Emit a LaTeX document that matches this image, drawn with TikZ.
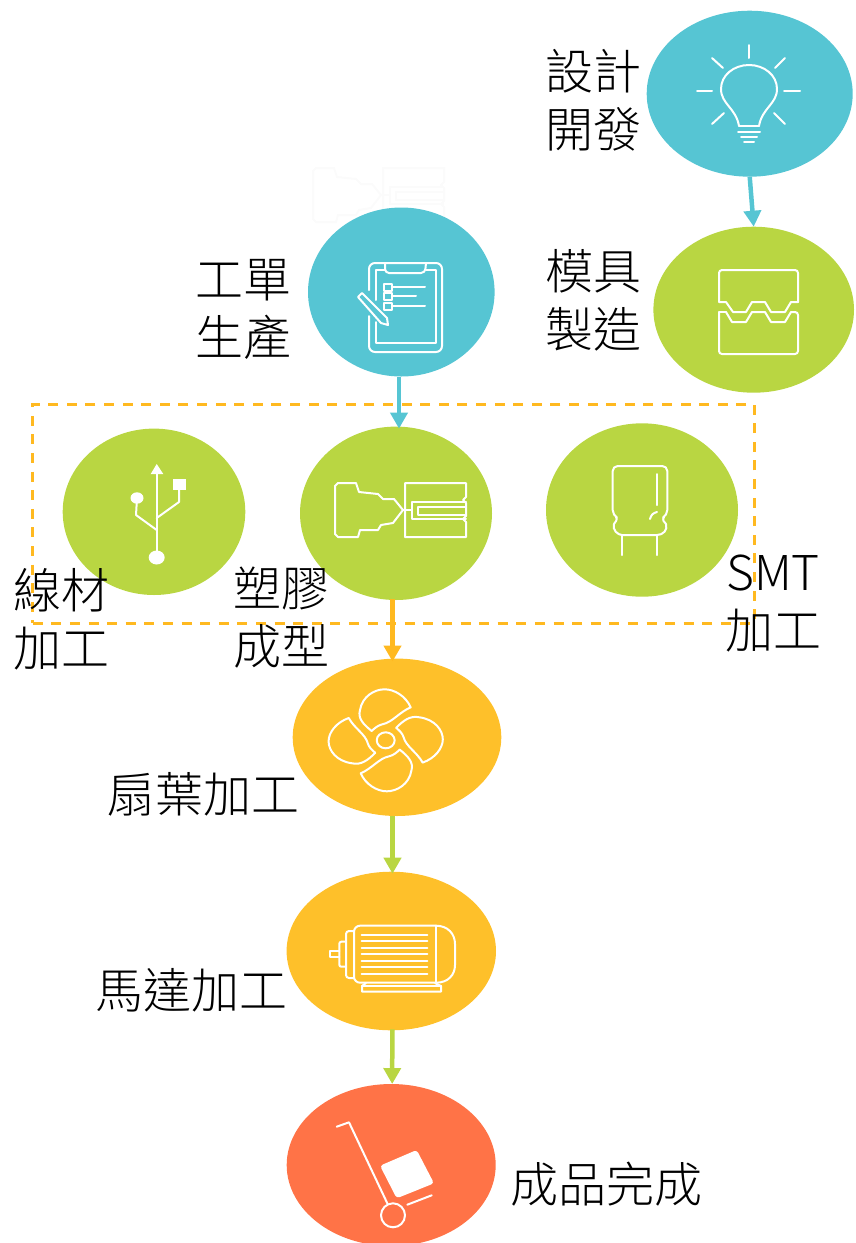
\documentclass[tikz,border=0pt]{standalone}
\usepackage{fontspec}
\setmainfont{Noto Sans CJK TC Light}
\usetikzlibrary{shapes.geometric,arrows.meta}

\definecolor{tealc}{HTML}{56C5D3}
\definecolor{greenc}{HTML}{B9D642}
\definecolor{amberc}{HTML}{FEC02A}
\definecolor{dashc}{HTML}{FFB920}
\definecolor{redc}{HTML}{FF7347}

\tikzset{
  stage/.style={ellipse, inner sep=0, outer sep=0},
  label text/.style={font=\fontsize{48}{58}\selectfont, align=center, text=black, inner sep=0},
  flow/.style={line width=4.5pt, -{Triangle[length=16pt,width=17pt]}},
  icon/.style={white, draw=white, line width=2pt, line join=round, line cap=round}
}

\newcommand{\injectionicon}{
  \draw (335,486) -- (338,483) -- (356,483) -- (359,492) -- (378,494) -- (383,499) -- (394,499)
    -- (403,510) -- (393,523) -- (381,525) -- (378,530) -- (360,530) -- (358,537) -- (338,537)
    -- (335,534) -- cycle;
  \draw (403,510) -- (412,510);
  \draw (405,483) -- (466,483) -- (466,497) -- (463,500) -- (466,503) -- (466,516) -- (463,519)
    -- (466,522) -- (466,537) -- (405,537) -- cycle;
  \draw (466,502) -- (412,502) -- (412,519) -- (466,519);
  \draw (465,507) -- (418,507) -- (418,515) -- (465,515);
}

\begin{document}
\begin{tikzpicture}[x=1pt,y=-1pt]

\useasboundingbox (0,0) rectangle (856,1243);
\clip (0,0) rectangle (856,1243);

\coordinate (A) at (749.7,93.7);
\coordinate (B) at (753.7,309.7);
\coordinate (C) at (401.3,292);
\coordinate (D) at (154,511.8);
\coordinate (E) at (396,513.3);
\coordinate (F) at (642,510);
\coordinate (G) at (397,737.3);
\coordinate (H) at (391.3,951);
\coordinate (I) at (391.2,1165);

% faint ghost of the injection icon
\begin{scope}[xshift=-22pt,yshift=315pt,draw=black!1.5,line width=2pt]
\injectionicon
\end{scope}

\node [stage, fill=tealc, minimum width=206pt, minimum height=166pt] (design) at (A) {};
\node [stage, fill=greenc, minimum width=200.6pt, minimum height=166pt] (mold) at (B) {};
\node [stage, fill=tealc, minimum width=186.6pt, minimum height=169pt] (order) at (C) {};
\node [stage, fill=greenc, minimum width=182.6pt, minimum height=166.4pt] (wire) at (D) {};
\node [stage, fill=greenc, minimum width=192pt, minimum height=173.4pt] (plastic) at (E) {};
\node [stage, fill=greenc, minimum width=192pt, minimum height=173.4pt] (smt) at (F) {};
\node [stage, fill=amberc, minimum width=208.6pt, minimum height=157.4pt] (blade) at (G) {};
\node [stage, fill=amberc, minimum width=209.4pt, minimum height=158.6pt] (motor) at (H) {};
\node [stage, fill=redc, minimum width=209pt, minimum height=162pt] (product) at (I) {};

\node [rectangle, draw=dashc, line width=3pt, dash pattern=on 10pt off 8.6pt, inner sep=0,
  minimum width=721.6pt, minimum height=219pt] (group) at (393.5,513.5) {};

\draw [flow, tealc] (design.south) -- (mold.north);
\draw [flow, tealc] ([xshift=-2.3pt]order.south) -- ([xshift=3pt,yshift=-2pt]plastic.north);
\draw [flow, dashc] ([xshift=-3.5pt,yshift=1pt]plastic.south) -- ([xshift=-4.5pt,yshift=-3pt]blade.north);
\draw [flow, greenc] ([xshift=-4.5pt]blade.south) -- ([xshift=1.2pt,yshift=-2pt]motor.north);
\draw [flow, greenc] ([xshift=1pt,yshift=1pt]motor.south) -- ([xshift=1pt]product.north);

% bulb
\begin{scope}[icon]
\draw (749,45) -- (749,58);
\draw (712,58) -- (723,68);
\draw (785,58) -- (775,68);
\draw (697,91) -- (712,91);
\draw (784,91) -- (800,91);
\draw (712,124) -- (724,113);
\draw (785,124) -- (774,113);
\draw (739,126) -- (759,126);
\draw (739,126) .. controls (736,108) and (721,104) .. (721,89)
  .. controls (721,75) and (734,65) .. (749,65)
  .. controls (764,65) and (777,75) .. (777,89)
  .. controls (777,104) and (762,108) .. (759,126);
\draw (738,132) -- (760,132);
\draw (741,137) -- (757,137);
\draw (744,142) -- (754,142);
\end{scope}

% mold
\begin{scope}[icon]
\draw [rounded corners=3pt] (719,302) -- (719,270) -- (798,270) -- (798,302);
\draw (719,302) -- (726,302) -- (733,312) -- (746,312) -- (752,302) -- (765,302) -- (771,312)
  -- (785,312) -- (791,302) -- (798,302);
\draw (726,312) -- (732,322) -- (746,322) -- (752,312) -- (765,312) -- (771,322) -- (785,322) -- (791,312);
\draw (726,312) -- (719,312);
\draw [rounded corners=3pt] (719,312) -- (719,354) -- (798,354) -- (798,312) -- (791,312);
\end{scope}

% clipboard
\begin{scope}[icon]
\draw [rounded corners=6pt] (369,290) -- (369,263) -- (442,263) -- (442,352) -- (369,352) -- (369,316);
\draw (376,300) -- (376,270) -- (385,270);
\draw (376,322) -- (376,343) -- (436,343) -- (436,270) -- (426,270);
\draw [rounded corners=4pt] (385,263) -- (385,273) -- (425,273) -- (426,263);
\draw (384,284) rectangle (392,291);
\draw (384,293) rectangle (392,300);
\draw (384,303) rectangle (392,310);
\draw (393,287) -- (425,287);
\draw (393,296) -- (416,296);
\draw (393,306) -- (425,306);
\draw (358,297) -- (362,293) -- (387,318) -- (388,325) -- (381,323) -- cycle;
\end{scope}

% usb
\begin{scope}[icon]
\fill (156.7,464) -- (163.3,474) -- (150.7,474) -- cycle;
\draw (156.7,470) -- (156.7,552);
\fill (156.7,557.5) ellipse (8 and 7);
\fill (137,498) ellipse (6.5 and 5.7);
\fill (172.7,478.7) rectangle (186,490);
\draw (137,498) -- (136,515) -- (156.7,530);
\draw (179,490) -- (179,502) -- (156.7,518);
\end{scope}

\begin{scope}[icon]
\injectionicon
\end{scope}

% capacitor
\begin{scope}[icon]
\draw [rounded corners=5pt] (616,517) -- (612.7,515) -- (612.7,466) -- (667.3,466) -- (667.3,515) -- (664,517);
\draw (616,517) .. controls (618,520) and (615,522) .. (614,524)
  .. controls (612,530) and (618,535) .. (622,535) -- (657,535)
  .. controls (663,535) and (668,530) .. (666,524) .. controls (664,522) and (662,520) .. (664,517);
\draw (622.3,535) -- (622.3,555);
\draw (657,535) -- (657,555);
\draw (657,474) -- (657,505);
\draw (650,519) .. controls (651,515) and (653,513) .. (657,512);
\end{scope}

% fan
\begin{scope}[icon,shift={(385.7,740.3)},xscale=1.12]
\draw (0,0) circle (8);
\foreach \r in {0,90,180,270} {
  \draw [rotate=\r] (-12.5,-9.3) .. controls (-20,-16) and (-25,-22) .. (-23,-30)
    .. controls (-21,-44) and (-10,-51) .. (-1,-51)
    .. controls (8,-51) and (18,-44) .. (22.3,-33)
    .. controls (12,-28) and (6,-18) .. (-3,-16) .. controls (-7,-15) and (-10,-12) .. cycle;
}
\end{scope}

% motor
\begin{scope}[icon]
\draw [rounded corners=6pt] (436,925.7) -- (354,925.7) -- (354,982.7) -- (436,982.7);
\draw (436,925.7) .. controls (448,925.7) and (455,934) .. (455,944) -- (455,965)
  .. controls (455,975) and (448,982.7) .. (436,982.7);
\draw (436,925.7) -- (436,982.7);
\foreach \y in {935,941,947.7,954,961,967.3,974} {
  \draw (361.7,\y) -- (427.3,\y);
}
\draw [rounded corners=3pt] (354,931) -- (346,931) -- (346,978) -- (354,978);
\draw [rounded corners=2pt] (346,941.7) -- (339.3,941.7) -- (339.3,966.7) -- (346,966.7);
\draw (339.3,951.3) -- (330,951.3) -- (330,957.3) -- (339.3,957.3);
\draw (366,983) -- (362,986) -- (362,991.7) -- (441,991.7) -- (441,986) -- (435,983);
\draw (362,986) -- (441,986);
\end{scope}

% trolley
\begin{scope}[icon]
\draw (336.7,1126.7) -- (349,1122.3) -- (387.3,1203.3);
\draw (393,1215.3) circle (12);
\fill [rounded corners=3pt] (380,1165.7) -- (416.7,1150) -- (434,1183.3) -- (396.7,1198.3) -- cycle;
\draw (407.3,1204.7) -- (431.7,1195.3);
\end{scope}

\node [label text] (designlabel) at (593,100) {設計\\開發};
\node [label text] (moldlabel) at (593,300) {模具\\製造};
\node [label text] (orderlabel) at (243,309) {工單\\生產};
\node [label text] (wirelabel) at (61,619) {線材\\加工};
\node [label text] (plasticlabel) at (281,618) {塑膠\\成型};
\node [label text] (smtlabel) at (773,604) {SMT\\加工};
\node [label text] (bladelabel) at (203,794) {扇葉加工};
\node [label text] (motorlabel) at (191,990) {馬達加工};
\node [label text] (productlabel) at (606,1184) {成品完成};

\end{tikzpicture}
\end{document}
